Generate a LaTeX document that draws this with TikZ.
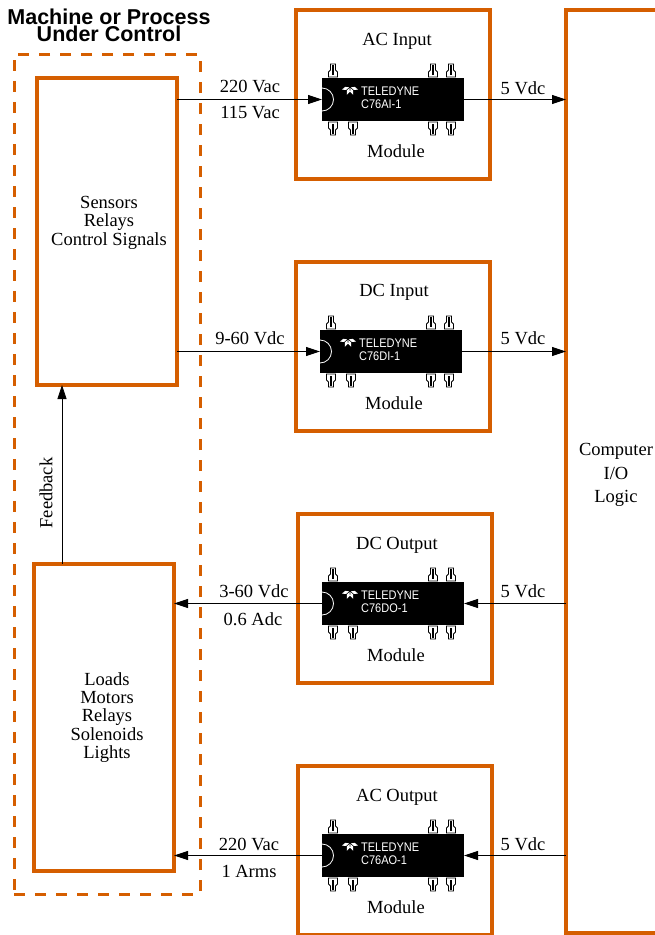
\documentclass[tikz,border=0pt]{standalone}
\usepackage{fontspec}
\setmainfont{Liberation Serif}
\newfontfamily\headfont{Liberation Sans}
\usetikzlibrary{arrows.meta}
\definecolor{procorange}{RGB}{213,94,0}
\tikzset{
    modbox/.style={draw=procorange, line width=4pt, minimum width=194pt, minimum height=169pt, inner sep=0pt, outer sep=0pt},
    procbox/.style={draw=procorange, line width=4pt, minimum width=140pt, minimum height=307pt, inner sep=0pt, outer sep=0pt},
    chipbox/.style={fill=black, minimum width=142pt, minimum height=43pt, inner sep=0pt, outer sep=0pt},
    chippin/.style={fill=white, draw=black, line width=0.8pt},
    chiptxt/.style={anchor=west, white, font=\headfont\fontsize{12.5}{14}\selectfont, inner sep=0pt, xscale=0.88},
    sig/.style={line width=0.8pt, -{Stealth[length=14pt, width=9pt, inset=0pt]}},
    lbl/.style={font=\fontsize{18.5}{18.4}\selectfont, align=center, inner sep=0pt}
}
% chip with pins, half circle and logo: name, x, y of upper left corner, type
\newcommand{\modchip}[4]{
    \node[chipbox, anchor=north west] (#1) at (#2,#3) {};
    \begin{scope}[shift={(#2,#3)}]
        \foreach \x in {11, 111, 129} {
            \draw[chippin] (\x-2.5,-1) -- (\x-4.5,-1) -- (\x-4.5,-6) -- (\x-2.5,-8) -- (\x-2.5,-14) -- (\x+2.5,-14) -- (\x+2.5,-8) -- (\x+4.5,-6) -- (\x+4.5,-1) -- cycle;
            \draw[line width=1.2pt] (\x,-13) -- (\x,-3);
        }
        \foreach \x in {11, 31, 111, 129} {
            \draw[chippin] (\x-4.5,44) -- (\x-4.5,50) -- (\x-2.5,52) -- (\x-2.5,57) -- (\x+2.5,57) -- (\x+2.5,52) -- (\x+4.5,50) -- (\x+4.5,44) -- cycle;
            \draw[line width=1.2pt] (\x,46) -- (\x,56);
        }
        \draw[white, line width=0.8pt] (0,10) arc[start angle=-90, end angle=90, radius=11.5];
        \foreach \a in {-72, -22, 22, 72} {
            \fill[white, shift={(28,9)}, rotate=\a] (0,1) -- (1.6,4.5) -- (0,8.5) -- (-1.6,4.5) -- cycle;
        }
        \node[chiptxt] at (39,13.5) {TELEDYNE};
        \node[chiptxt] at (39,26.5) {#4};
    \end{scope}
}
\begin{document}
\begin{tikzpicture}[x=1pt, y=-1pt]
    \useasboundingbox (0,0) rectangle (655,935);

    % left side
    \node[lbl, font=\headfont\bfseries\fontsize{21.5}{17}\selectfont] (machine) at (109,25.5) {Machine or Process\\Under Control};
    \node[draw=procorange, line width=3pt, dash pattern=on 11pt off 10pt, minimum width=186pt, minimum height=840pt, inner sep=0pt, outer sep=0pt] (process) at (107,474) {};
    \node[procbox, lbl] (sensors) at (107,231.5) {};
    \node[lbl] (sensorstxt) at (109,222.5) {Sensors\\Relays\\Control Signals};
    \node[procbox, lbl] (loads) at (104,717.5) {};
    \node[lbl] (loadstxt) at (107,717.5) {Loads\\Motors\\Relays\\Solenoids\\Lights};

    % modules
    \node[modbox] (acin) at (393,94.5) {};
    \node[modbox] (dcin) at (393,346.5) {};
    \node[modbox] (dcout) at (394.5,598.5) {};
    \node[modbox] (acout) at (394.5,850.5) {};

    \node[lbl] (acintitle) at (397,41) {AC Input};
    \node[lbl] (acinmod) at (396,151) {Module};
    \node[lbl] (dcintitle) at (394,292) {DC Input};
    \node[lbl] (dcinmod) at (394,403) {Module};
    \node[lbl] (dcouttitle) at (397,545) {DC Output};
    \node[lbl] (dcoutmod) at (396,655) {Module};
    \node[lbl] (acouttitle) at (397,797) {AC Output};
    \node[lbl] (acoutmod) at (396,907) {Module};

    \modchip{acchip}{322}{78}{C76AI-1}
    \modchip{dcchip}{320}{330}{C76DI-1}
    \modchip{dochip}{322}{582}{C76DO-1}
    \modchip{aochip}{322}{834}{C76AO-1}

    % computer, open towards the right
    \node[minimum width=89pt, minimum height=923pt, inner sep=0pt, outer sep=0pt] (computer) at (610.5,471.5) {};
    \draw[procorange, line width=4pt] (computer.north east) -- (computer.north west) -- (computer.south west) -- (computer.south east);
    \node[lbl, font=\fontsize{18.5}{23.5}\selectfont] (computertxt) at (616,475) {Computer\\I/O\\Logic};

    % signals
    \draw[sig] (sensors.east |- acchip.west) -- (acchip.west);
    \draw[sig] (acchip.east) -- (acchip.east -| computer.west);
    \draw[sig] (sensors.east |- dcchip.west) -- (dcchip.west);
    \draw[sig] (dcchip.east) -- (dcchip.east -| computer.west);
    \draw[sig] (dochip.west) -- (dochip.west -| loads.east);
    \draw[sig] (dochip.east -| computer.west) -- (dochip.east);
    \draw[sig] (aochip.west) -- (aochip.west -| loads.east);
    \draw[sig] (aochip.east -| computer.west) -- (aochip.east);

    \coordinate (fbstart) at (62,564);
    \coordinate (fbend) at (62,385);
    \draw[sig] (fbstart) -- (fbend);
    \node[lbl, rotate=90] (feedback) at (46,493) {Feedback};

    % labels
    \node[lbl] (acinv) at (250,86) {220 Vac};
    \node[lbl] (acinw) at (250,113) {115 Vac};
    \node[lbl] (acin5) at (523,88) {5 Vdc};
    \node[lbl] (dcinv) at (250,338) {9-60 Vdc};
    \node[lbl] (dcin5) at (523,338) {5 Vdc};
    \node[lbl] (dcoutv) at (254,591) {3-60 Vdc};
    \node[lbl] (dcouta) at (253,619) {0.6 Adc};
    \node[lbl] (dcout5) at (523,591) {5 Vdc};
    \node[lbl] (acoutv) at (249,844) {220 Vac};
    \node[lbl] (acouta) at (249,871) {1 Arms};
    \node[lbl] (acout5) at (523,844) {5 Vdc};
\end{tikzpicture}
\end{document}
